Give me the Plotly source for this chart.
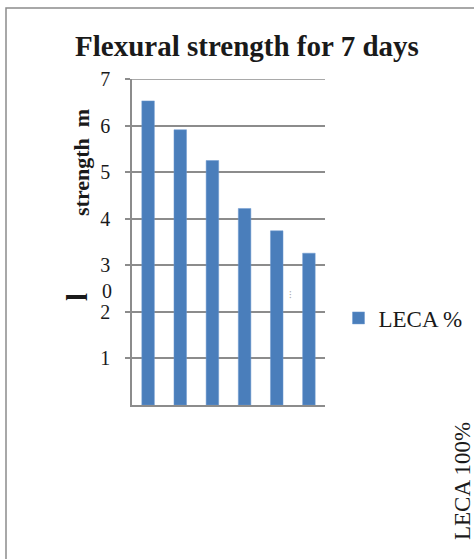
import plotly.graph_objects as go

categories = ["LECA 0%", "LECA 20%", "LECA 40%", "LECA 60%", "LECA 80%", "LECA 100%"]
strength_values = [6.53, 5.91, 5.25, 4.22, 3.74, 3.26]
series_name = "LECA %"
y_tick_vals = [1, 2, 3, 4, 5, 6, 7]
y_tick_text = ["1", "2", "3", "4", "5", "6", "7"]
title_text = "Flexural strength for 7 days"

SERIF = "Liberation Serif"
GRAY = "#8c8c8c"
BAR = "#4a7ebb"

fig = go.Figure()
fig.add_trace(go.Bar(
    x=categories, y=strength_values, name=series_name,
    marker=dict(color=BAR, line=dict(color="#6f9ad0", width=0.5)),
    showlegend=True,
))

fig.update_layout(
    width=474, height=559,
    margin=dict(l=132, r=149, t=79, b=154, autoexpand=False),
    paper_bgcolor="white", plot_bgcolor="white",
    bargap=0.61,
    font=dict(family=SERIF, color="#1a1a1a"),
    title=dict(text="<b>" + title_text + "</b>", x=0.521, xref="container", xanchor="center",
               y=0.918, yref="container", yanchor="middle",
               font=dict(family=SERIF, size=29, color="#1a1a1a")),
    showlegend=True,
    legend=dict(x=1.07, xanchor="left", y=0.267, yanchor="middle",
                font=dict(family=SERIF, size=23, color="#1a1a1a"),
                itemwidth=30, bgcolor="rgba(0,0,0,0)"),
    xaxis=dict(range=[-0.5, 5.5], showticklabels=False, ticks="",
               showline=True, linecolor=GRAY, linewidth=1.5, showgrid=False,
               zeroline=False),
    yaxis=dict(range=[0, 7], tickvals=y_tick_vals, ticktext=y_tick_text,
               showgrid=True, gridcolor=GRAY, gridwidth=1.5,
               showline=True, linecolor=GRAY, linewidth=1.5,
               ticks="outside", ticklen=5, tickcolor=GRAY, tickwidth=1.5,
               ticklabelstandoff=11,
               tickfont=dict(family=SERIF, size=20, color="#1a1a1a"),
               zeroline=False),
)

def px_x(px):
    return (px - 132) / 193.0

def px_y(py):
    return (405 - py) / 326.0

annotations = [
    dict(text="<b>strength&nbsp; m</b>", x=px_x(81), y=px_y(163), textangle=-90,
         font=dict(family=SERIF, size=22, color="#1a1a1a")),
    dict(text="<b>l</b>", x=px_x(77), y=px_y(297), textangle=-90,
         font=dict(family=SERIF, size=29, color="#1a1a1a")),
    dict(text="0", x=px_x(107), y=px_y(291),
         font=dict(family=SERIF, size=20, color="#1a1a1a")),
    dict(text=categories[-1], x=px_x(462), y=px_y(481), textangle=-90,
         font=dict(family=SERIF, size=23, color="#1a1a1a")),
    dict(text="⁝", x=px_x(290), y=px_y(294),
         font=dict(family=SERIF, size=10, color="#aaaaaa")),
]
for a in annotations:
    a.update(xref="paper", yref="paper", showarrow=False, xanchor="center", yanchor="middle")
fig.update_layout(annotations=annotations)

# top gridline at the axis maximum (Plotly omits a gridline on the plot edge)
fig.add_shape(type="line", xref="paper", yref="y", x0=0, x1=1,
              y0=y_tick_vals[-1], y1=y_tick_vals[-1],
              line=dict(color=GRAY, width=1.5), layer="below")

fig.add_shape(type="rect", xref="paper", yref="paper",
              x0=px_x(6), x1=px_x(490), y0=px_y(580), y1=px_y(8),
              line=dict(color=GRAY, width=1.5), fillcolor="rgba(0,0,0,0)", layer="below")

fig.write_html("out.html", config={"displayModeBar": False},
               post_script="document.body.style.margin='0';document.body.style.overflow='hidden';")
